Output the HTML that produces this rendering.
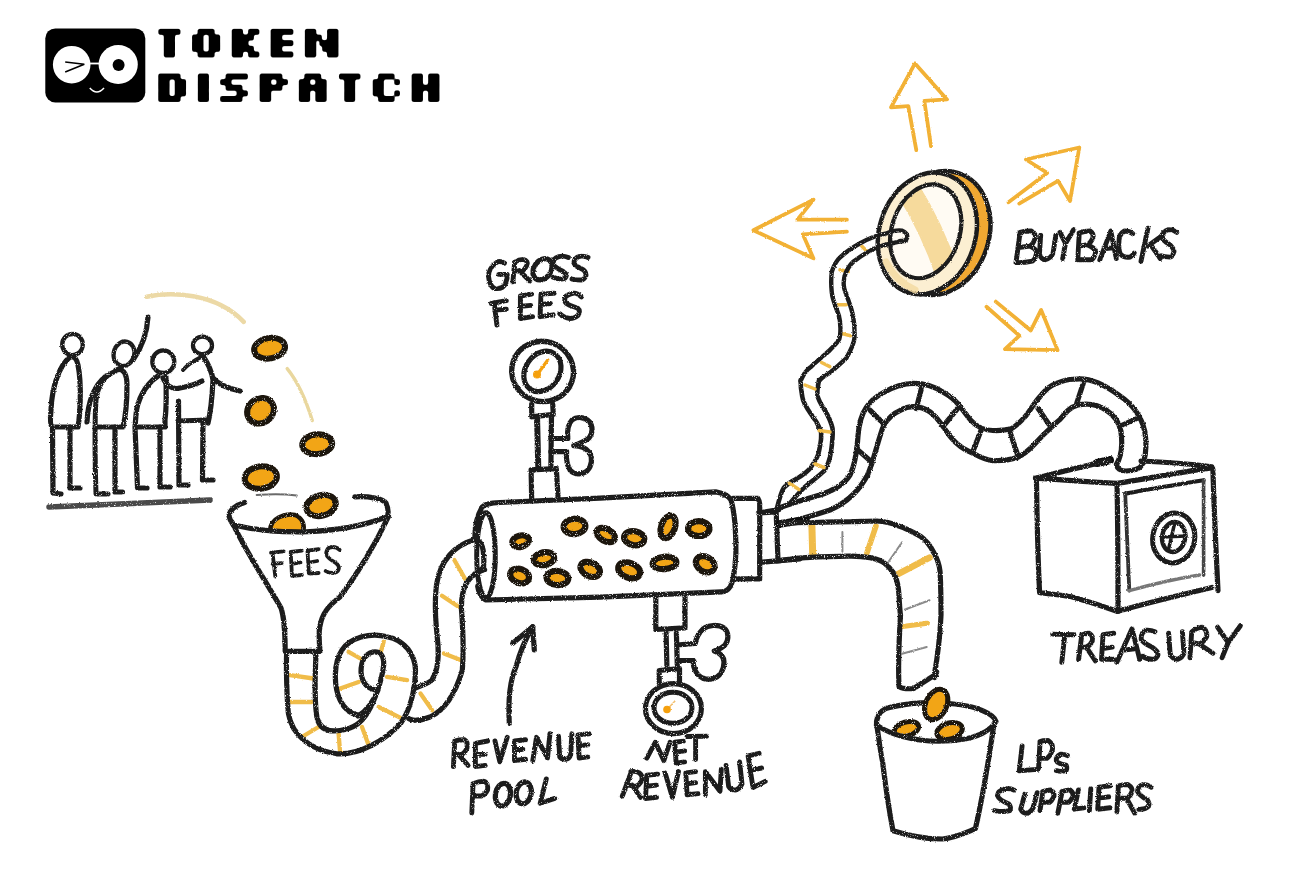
<!DOCTYPE html>
<html><head><meta charset="utf-8"><style>
html,body{margin:0;padding:0;background:#fff;}
svg{display:block;}
</style></head><body>
<svg width="1310" height="873" viewBox="0 0 1310 873">
<rect width="1310" height="873" fill="#fff"/>
<defs><filter id="goo" x="-5%" y="-5%" width="110%" height="110%"><feGaussianBlur stdDeviation="0.8"/><feComponentTransfer><feFuncA type="linear" slope="3" intercept="-1"/></feComponentTransfer></filter></defs><g fill="#000" filter="url(#goo)"><rect x="158.35" y="28.85" width="22.10" height="5.96" /><rect x="163.80" y="34.51" width="11.20" height="5.96" /><rect x="163.80" y="40.17" width="11.20" height="5.96" /><rect x="163.80" y="45.83" width="11.20" height="5.96" /><rect x="163.80" y="51.49" width="11.20" height="5.96" /><rect x="197.61" y="28.85" width="16.98" height="5.96" /><rect x="192.05" y="34.51" width="11.42" height="5.96" /><rect x="208.73" y="34.51" width="11.42" height="5.96" /><rect x="192.05" y="40.17" width="11.42" height="5.96" /><rect x="208.73" y="40.17" width="11.42" height="5.96" /><rect x="192.05" y="45.83" width="11.42" height="5.96" /><rect x="208.73" y="45.83" width="11.42" height="5.96" /><rect x="197.61" y="51.49" width="16.98" height="5.96" /><rect x="231.75" y="28.85" width="11.22" height="5.96" /><rect x="248.13" y="28.85" width="11.22" height="5.96" /><rect x="231.75" y="34.51" width="22.14" height="5.96" /><rect x="231.75" y="40.17" width="16.68" height="5.96" /><rect x="231.75" y="45.83" width="22.14" height="5.96" /><rect x="231.75" y="51.49" width="11.22" height="5.96" /><rect x="248.13" y="51.49" width="11.22" height="5.96" /><rect x="270.65" y="28.85" width="22.70" height="5.96" /><rect x="270.65" y="34.51" width="11.50" height="5.96" /><rect x="270.65" y="40.17" width="22.70" height="5.96" /><rect x="270.65" y="45.83" width="11.50" height="5.96" /><rect x="270.65" y="51.49" width="22.70" height="5.96" /><rect x="304.85" y="28.85" width="11.40" height="5.96" /><rect x="327.05" y="28.85" width="11.40" height="5.96" /><rect x="304.85" y="34.51" width="11.40" height="5.96" /><rect x="327.05" y="34.51" width="11.40" height="5.96" /><rect x="304.85" y="40.17" width="11.40" height="5.96" /><rect x="327.05" y="40.17" width="11.40" height="5.96" /><rect x="304.85" y="45.83" width="11.40" height="5.96" /><rect x="327.05" y="45.83" width="11.40" height="5.96" /><rect x="304.85" y="51.49" width="11.40" height="5.96" /><rect x="327.05" y="51.49" width="11.40" height="5.96" /><rect x="315.90" y="34.66" width="5.95" height="5.96" /><rect x="319.43" y="40.12" width="8.32" height="5.96" /><rect x="322.20" y="45.78" width="5.55" height="5.96" /><rect x="158.25" y="73.55" width="22.30" height="5.92" /><rect x="158.25" y="79.17" width="11.30" height="5.92" /><rect x="174.75" y="79.17" width="11.30" height="5.92" /><rect x="158.25" y="84.79" width="11.30" height="5.92" /><rect x="174.75" y="84.79" width="11.30" height="5.92" /><rect x="158.25" y="90.41" width="11.30" height="5.92" /><rect x="174.75" y="90.41" width="11.30" height="5.92" /><rect x="158.25" y="96.03" width="22.30" height="5.92" /><rect x="197.85" y="73.55" width="11.10" height="5.92" /><rect x="197.85" y="79.17" width="11.10" height="5.92" /><rect x="197.85" y="84.79" width="11.10" height="5.92" /><rect x="197.85" y="90.41" width="11.10" height="5.92" /><rect x="197.85" y="96.03" width="11.10" height="5.92" /><rect x="225.64" y="73.55" width="22.26" height="5.92" /><rect x="220.15" y="79.17" width="11.28" height="5.92" /><rect x="225.64" y="84.79" width="16.77" height="5.92" /><rect x="236.62" y="90.41" width="11.28" height="5.92" /><rect x="220.15" y="96.03" width="22.26" height="5.92" /><rect x="259.65" y="73.55" width="22.70" height="5.92" /><rect x="259.65" y="79.17" width="11.50" height="5.92" /><rect x="276.45" y="79.17" width="11.50" height="5.92" /><rect x="259.65" y="84.79" width="22.70" height="5.92" /><rect x="259.65" y="90.41" width="11.50" height="5.92" /><rect x="259.65" y="96.03" width="11.50" height="5.92" /><rect x="304.35" y="73.55" width="16.80" height="5.92" /><rect x="298.85" y="79.17" width="11.30" height="5.92" /><rect x="315.35" y="79.17" width="11.30" height="5.92" /><rect x="298.85" y="84.79" width="27.80" height="5.92" /><rect x="298.85" y="90.41" width="11.30" height="5.92" /><rect x="315.35" y="90.41" width="11.30" height="5.92" /><rect x="298.85" y="96.03" width="11.30" height="5.92" /><rect x="315.35" y="96.03" width="11.30" height="5.92" /><rect x="338.95" y="73.55" width="21.50" height="5.92" /><rect x="344.25" y="79.17" width="10.90" height="5.92" /><rect x="344.25" y="84.79" width="10.90" height="5.92" /><rect x="344.25" y="90.41" width="10.90" height="5.92" /><rect x="344.25" y="96.03" width="10.90" height="5.92" /><rect x="378.13" y="73.55" width="16.44" height="5.92" /><rect x="372.75" y="79.17" width="11.06" height="5.92" /><rect x="394.27" y="79.17" width="5.68" height="5.92" /><rect x="372.75" y="84.79" width="11.06" height="5.92" /><rect x="372.75" y="90.41" width="11.06" height="5.92" /><rect x="394.27" y="90.41" width="5.68" height="5.92" /><rect x="378.13" y="96.03" width="16.44" height="5.92" /><rect x="411.65" y="73.55" width="11.30" height="5.92" /><rect x="428.15" y="73.55" width="11.30" height="5.92" /><rect x="411.65" y="79.17" width="11.30" height="5.92" /><rect x="428.15" y="79.17" width="11.30" height="5.92" /><rect x="411.65" y="84.79" width="27.80" height="5.92" /><rect x="411.65" y="90.41" width="11.30" height="5.92" /><rect x="428.15" y="90.41" width="11.30" height="5.92" /><rect x="411.65" y="96.03" width="11.30" height="5.92" /><rect x="428.15" y="96.03" width="11.30" height="5.92" /></g><rect x="45.3" y="28.4" width="100" height="74" rx="10" fill="#000"/><circle cx="71.7" cy="64.7" r="18.8" fill="#fff"/><circle cx="118.2" cy="64.5" r="19.6" fill="#fff"/><rect x="89" y="62.6" width="12" height="1.8" fill="#fff"/><circle cx="118.6" cy="65" r="6" fill="#000"/><path d="M65.2 62 L84.3 64.3 L65.2 71.9" fill="none" stroke="#000" stroke-width="1.6"/><path d="M89.8 88 Q96.8 96 104 88" fill="none" stroke="#fff" stroke-width="1.6"/>
<defs><filter id="rough" x="0" y="0" width="1310" height="873" filterUnits="userSpaceOnUse"><feTurbulence type="fractalNoise" baseFrequency="0.8" numOctaves="2" seed="3" result="n"/><feDisplacementMap in="SourceGraphic" in2="n" scale="2.2" xChannelSelector="R" yChannelSelector="G" result="d"/><feTurbulence type="fractalNoise" baseFrequency="1.1" numOctaves="1" seed="7" result="n2"/><feColorMatrix in="n2" type="matrix" values="0 0 0 0 1  0 0 0 0 1  0 0 0 0 1  0 0 0 -6 2.1" result="sp"/><feColorMatrix in="d" type="matrix" values="0 0 0 0 0  0 0 0 0 0  0 0 0 0 0  -3 -3 -3 3 0" result="dk"/><feComposite in="sp" in2="dk" operator="in" result="spd"/><feMerge><feMergeNode in="d"/><feMergeNode in="spd"/></feMerge><feGaussianBlur stdDeviation="0.35"/></filter></defs>
<g filter="url(#rough)"><ellipse cx="72.5" cy="344.6" rx="10.3" ry="10.6" fill="none" stroke="#1f1f1f" stroke-width="4.3"/><path d="M70 357 C60 365 52 385 51 410 C50 420 50 425 52 427 L78 427 C80 415 82 385 78 365 C77 360 75 357 72 357" fill="none" stroke="#1f1f1f" stroke-width="5.2" stroke-linecap="round" stroke-linejoin="round" /><path d="M52.5 427 L53 493 L61 494 M70 427 L70 488 L80 488" fill="none" stroke="#1f1f1f" stroke-width="5.2" stroke-linecap="round" stroke-linejoin="round" /><ellipse cx="124" cy="353.7" rx="10.3" ry="12.3" transform="rotate(15 124 353.7)" fill="none" stroke="#1f1f1f" stroke-width="4.3"/><path d="M133 360 C140 350 147 335 148 317" fill="none" stroke="#1f1f1f" stroke-width="5.2" stroke-linecap="round" stroke-linejoin="round" /><path d="M116 370 C122 368 127 372 127 385 C127 400 126 415 123 427 L97 427" fill="none" stroke="#1f1f1f" stroke-width="5.2" stroke-linecap="round" stroke-linejoin="round" /><path d="M116 371 C105 375 98 385 96 400 C95 415 95 460 96 494 L108 494" fill="none" stroke="#1f1f1f" stroke-width="5" stroke-linecap="round" stroke-linejoin="round" /><path d="M106 376 C95 385 88 400 87 422" fill="none" stroke="#1f1f1f" stroke-width="5.2" stroke-linecap="round" stroke-linejoin="round" /><path d="M115 427 L115 492 L122.5 492" fill="none" stroke="#1f1f1f" stroke-width="5.2" stroke-linecap="round" stroke-linejoin="round" /><ellipse cx="163.3" cy="361.7" rx="11" ry="11.3" fill="none" stroke="#1f1f1f" stroke-width="4.3"/><path d="M158 376 C145 385 137 400 136 415 L135 427 L137.5 488 L147 488" fill="none" stroke="#1f1f1f" stroke-width="5.2" stroke-linecap="round" stroke-linejoin="round" /><path d="M166 377 C166 390 167 405 165 420 L165 427 L136 427" fill="none" stroke="#1f1f1f" stroke-width="5.2" stroke-linecap="round" stroke-linejoin="round" /><path d="M160 427 L160 487 L170 487" fill="none" stroke="#1f1f1f" stroke-width="5.2" stroke-linecap="round" stroke-linejoin="round" /><path d="M163 378 C166 385 172 390 180 388 C190 386 197 384 202 381" fill="none" stroke="#1f1f1f" stroke-width="5.2" stroke-linecap="round" stroke-linejoin="round" /><ellipse cx="202.5" cy="345.4" rx="9.5" ry="8.8" fill="none" stroke="#1f1f1f" stroke-width="4.3"/><path d="M203 356 C195 360 188 364 183 370" fill="none" stroke="#1f1f1f" stroke-width="4" stroke-linecap="round" stroke-linejoin="round" /><path d="M203 356 C207 362 212 372 213 380 C212 400 210 415 208 423" fill="none" stroke="#1f1f1f" stroke-width="5.2" stroke-linecap="round" stroke-linejoin="round" /><path d="M178 421 L208 420" fill="none" stroke="#1f1f1f" stroke-width="5.2" stroke-linecap="round" stroke-linejoin="round" /><path d="M178.5 401 L179 485 L188 485" fill="none" stroke="#1f1f1f" stroke-width="5.2" stroke-linecap="round" stroke-linejoin="round" /><path d="M203 420 L202.5 480 L213 480" fill="none" stroke="#1f1f1f" stroke-width="5.2" stroke-linecap="round" stroke-linejoin="round" /><path d="M213 378 C218 384 225 388 240 391" fill="none" stroke="#1f1f1f" stroke-width="5.2" stroke-linecap="round" stroke-linejoin="round" /><path d="M49 507 C100 505 160 502 210 500" fill="none" stroke="#4a4a4a" stroke-width="5.5" stroke-linecap="round" stroke-linejoin="round" /><path d="M146.7 296.7 C170 292 215 292 243.7 321.8" fill="none" stroke="#ecd9a6" stroke-width="4.6" stroke-linecap="round" stroke-linejoin="round" /><path d="M287.2 368.6 C298 382 306 400 312.3 420.5" fill="none" stroke="#e9d79e" stroke-width="3.4" stroke-linecap="round" stroke-linejoin="round" /><ellipse cx="269.6" cy="348.2" rx="15.6" ry="10.2" transform="rotate(-10 269.6 348.2)" fill="#f2a516" stroke="#1e160c" stroke-width="6"/><ellipse cx="260.5" cy="410.7" rx="13.9" ry="12.2" transform="rotate(-35 260.5 410.7)" fill="#f2a516" stroke="#1e160c" stroke-width="6"/><ellipse cx="317.2" cy="444.2" rx="15.0" ry="9.9" transform="rotate(-5 317.2 444.2)" fill="#f2a516" stroke="#1e160c" stroke-width="6"/><ellipse cx="260.8" cy="477.5" rx="16.2" ry="11.2" transform="rotate(-8 260.8 477.5)" fill="#f2a516" stroke="#1e160c" stroke-width="6"/><path d="M256.7 495 C270 494 285 494 296.7 495.5" fill="none" stroke="#6a6a6a" stroke-width="2" stroke-linecap="round" stroke-linejoin="round" /><ellipse cx="321.1" cy="505.5" rx="15.0" ry="10.3" transform="rotate(-15 321.1 505.5)" fill="#f2a516" stroke="#1e160c" stroke-width="6"/><path d="M270 531 C270 518 285 513 295 515 C303 518 305 526 303 532 Z" fill="#f2a516" stroke="#1e160c" stroke-width="4.5" stroke-linejoin="round"/><path d="M244.6 502.4 C236 505 229 510 229 516 C230 521 232 523 233.4 525 C250 529 275 532 302 532 C330 531 360 527 384.3 517.7" fill="none" stroke="#1f1f1f" stroke-width="5.2" stroke-linecap="round" stroke-linejoin="round" /><path d="M355 496.8 C370 496 383 499 386 503 C389 510 389 515 386 519" fill="none" stroke="#1f1f1f" stroke-width="5.2" stroke-linecap="round" stroke-linejoin="round" /><path d="M232 522 C245 550 265 580 281 608 C285 620 285 635 285.2 651.3 L320 651.3 C319 640 319 630 320 626 C322 614 328 606 340 597 C360 570 375 545 388.5 516.3" fill="none" stroke="#1f1f1f" stroke-width="5.2" stroke-linecap="round" stroke-linejoin="round" /><path d="M271 552.7 L283.7 551.3 M272.5 552.7 L275.3 576.5 M272.5 563.9 L281.6 563.2" fill="none" stroke="#1f1f1f" stroke-width="3.8" stroke-linecap="round" stroke-linejoin="round" /><path d="M301.9 550.6 L290.7 552 L292 575.8 L301.9 575 M292 563.9 L300.5 562.5" fill="none" stroke="#1f1f1f" stroke-width="3.8" stroke-linecap="round" stroke-linejoin="round" /><path d="M318.6 549.2 L307.5 550.6 L308.9 573.7 L318.6 573 M308.9 562.5 L317.2 561" fill="none" stroke="#1f1f1f" stroke-width="3.8" stroke-linecap="round" stroke-linejoin="round" /><path d="M339.6 549.9 C336 546 329 546 327 550 C324 556 331 560 336 563 C341 567 339 573 333 573 C330 573 327 572 325.6 571" fill="none" stroke="#1f1f1f" stroke-width="3.8" stroke-linecap="round" stroke-linejoin="round" /><path d="M290 675.2 L313.5 678.5" fill="none" stroke="#f0bc4a" stroke-width="4.3" stroke-linecap="round" stroke-linejoin="round" /><path d="M290 702 L311.8 702" fill="none" stroke="#f0bc4a" stroke-width="4.3" stroke-linecap="round" stroke-linejoin="round" /><path d="M301.8 737 L318.5 727" fill="none" stroke="#f0bc4a" stroke-width="4.3" stroke-linecap="round" stroke-linejoin="round" /><path d="M338.6 733.7 L340.2 753.8" fill="none" stroke="#f0bc4a" stroke-width="4.3" stroke-linecap="round" stroke-linejoin="round" /><path d="M362 727 L368.7 745.4" fill="none" stroke="#f0bc4a" stroke-width="4.3" stroke-linecap="round" stroke-linejoin="round" /><path d="M378.7 707 L402.1 718.7" fill="none" stroke="#f0bc4a" stroke-width="4.3" stroke-linecap="round" stroke-linejoin="round" /><path d="M340.2 688.6 L358.6 681.9" fill="none" stroke="#f0bc4a" stroke-width="4.3" stroke-linecap="round" stroke-linejoin="round" /><path d="M348.6 651.8 L360.3 658.5" fill="none" stroke="#f0bc4a" stroke-width="4.3" stroke-linecap="round" stroke-linejoin="round" /><path d="M383.7 641.7 L380.4 653.4" fill="none" stroke="#f0bc4a" stroke-width="4.3" stroke-linecap="round" stroke-linejoin="round" /><path d="M387 676.9 L407.1 680.2" fill="none" stroke="#f0bc4a" stroke-width="4.3" stroke-linecap="round" stroke-linejoin="round" /><path d="M420.5 693.6 L432.2 710.3" fill="none" stroke="#f0bc4a" stroke-width="4.3" stroke-linecap="round" stroke-linejoin="round" /><path d="M443.9 653.4 L460.6 660.1" fill="none" stroke="#f0bc4a" stroke-width="4.3" stroke-linecap="round" stroke-linejoin="round" /><path d="M454.3 560 L465.3 579.3" fill="none" stroke="#f0bc4a" stroke-width="4.3" stroke-linecap="round" stroke-linejoin="round" /><path d="M442 595.8 L458.5 606.8" fill="none" stroke="#f0bc4a" stroke-width="4.3" stroke-linecap="round" stroke-linejoin="round" /><path d="M286.6 654 C286 670 287 700 288.4 713.6 C292 735 310 750 336.9 753.8 C360 755 385 740 400.4 723.7 C410 710 415 690 415.5 670.2 C415 655 405 640 387 636.7 C370 632 350 638 341.9 650.1 C334 662 333 685 340.2 700.3 C345 710 352 714 358 715" fill="none" stroke="#1f1f1f" stroke-width="5.2" stroke-linecap="round" stroke-linejoin="round" /><path d="M316 654 C315 675 314 700 317 718 C320 730 330 732 340 730.5 C355 728 362 722 368 712 C375 700 382 680 383.7 665 C384 655 380 651 373 652 C365 654 361 660 361 672 C362 685 370 690 378 690 C372 705 365 712 358 716" fill="none" stroke="#1f1f1f" stroke-width="5.2" stroke-linecap="round" stroke-linejoin="round" /><path d="M408.8 718.7 C412 721 420 721 430 717 C445 710 455 695 462.3 670.2 C464 650 463 630 461.5 610 C461 598 463 590 466 584 C470 577 476 572 484.6 569.7" fill="none" stroke="#1f1f1f" stroke-width="5.2" stroke-linecap="round" stroke-linejoin="round" /><path d="M413.8 688.6 C420 686 428 684 432 680 C437 672 439 660 438 645 C436 625 434 605 436.5 585 C440 560 455 545 475 539.5" fill="none" stroke="#1f1f1f" stroke-width="5.2" stroke-linecap="round" stroke-linejoin="round" /><path d="M475 539.5 C478 540 482 543 483.2 550.5 C484 558 484 565 483.2 568 C480 571 477 572 475 573.8" fill="none" stroke="#1f1f1f" stroke-width="5.2" stroke-linecap="round" stroke-linejoin="round" /><path d="M481.8 507.9 C476 518 474.5 528 475 539.5" fill="none" stroke="#1f1f1f" stroke-width="5.2" stroke-linecap="round" stroke-linejoin="round" /><path d="M481.8 507.9 C484 504 490 503 500 502.5 L600 498.2 L715.7 491.9 C722 493 728.6 496 731 500 C734 510 736 530 735.9 553.3 C735 570 733 582 730.4 586.3 C728 590 724 591.8 721.2 591.8 L600 597.2 L486 600 C481 598 478 590 477.7 586.2" fill="none" stroke="#1f1f1f" stroke-width="5.2" stroke-linecap="round" stroke-linejoin="round" /><ellipse cx="486" cy="555.3" rx="9.3" ry="42.5" fill="none" stroke="#1f1f1f" stroke-width="5"/><path d="M733.1 498.3 L757.9 498.3 C759 500 759.7 502 759.7 503.8 L759.7 578.9 L735.9 578.9" fill="none" stroke="#1f1f1f" stroke-width="5.2" stroke-linecap="round" stroke-linejoin="round" /><path d="M759.7 513 L776.2 512 M759.7 562.4 L800 558.8 M776.2 513 L778 560.6" fill="none" stroke="#1f1f1f" stroke-width="5.2" stroke-linecap="round" stroke-linejoin="round" /><ellipse cx="520.6" cy="541.2" rx="8.4" ry="5.7" transform="rotate(-15 520.6 541.2)" fill="#f2a516" stroke="#1e160c" stroke-width="6.2"/><ellipse cx="574.5" cy="526.4" rx="10.9" ry="7.700000000000001" transform="rotate(-5 574.5 526.4)" fill="#f2a516" stroke="#1e160c" stroke-width="6.2"/><ellipse cx="544" cy="558.7" rx="10.200000000000001" ry="6.4" transform="rotate(-10 544 558.7)" fill="#f2a516" stroke="#1e160c" stroke-width="6.2"/><ellipse cx="519.6" cy="575.9" rx="9.700000000000001" ry="7.0" transform="rotate(20 519.6 575.9)" fill="#f2a516" stroke="#1e160c" stroke-width="6.2"/><ellipse cx="557.4" cy="578" rx="10.9" ry="7.0" transform="rotate(5 557.4 578)" fill="#f2a516" stroke="#1e160c" stroke-width="6.2"/><ellipse cx="605.8" cy="535" rx="9.9" ry="6.0" transform="rotate(30 605.8 535)" fill="#f2a516" stroke="#1e160c" stroke-width="6.2"/><ellipse cx="634.2" cy="538.2" rx="10.200000000000001" ry="7.0" transform="rotate(10 634.2 538.2)" fill="#f2a516" stroke="#1e160c" stroke-width="6.2"/><ellipse cx="668.1" cy="526.8" rx="6.9" ry="11.700000000000001" transform="rotate(20 668.1 526.8)" fill="#f2a516" stroke="#1e160c" stroke-width="6.2"/><ellipse cx="698.8" cy="528.6" rx="10.700000000000001" ry="7.4" transform="rotate(0 698.8 528.6)" fill="#f2a516" stroke="#1e160c" stroke-width="6.2"/><ellipse cx="590.2" cy="569.4" rx="10.200000000000001" ry="6.9" transform="rotate(25 590.2 569.4)" fill="#f2a516" stroke="#1e160c" stroke-width="6.2"/><ellipse cx="629.2" cy="570.3" rx="11.4" ry="7.4" transform="rotate(20 629.2 570.3)" fill="#f2a516" stroke="#1e160c" stroke-width="6.2"/><ellipse cx="664.5" cy="562.9" rx="11.9" ry="6.2" transform="rotate(-5 664.5 562.9)" fill="#f2a516" stroke="#1e160c" stroke-width="6.2"/><ellipse cx="705.2" cy="564.3" rx="9.9" ry="7.4" transform="rotate(30 705.2 564.3)" fill="#f2a516" stroke="#1e160c" stroke-width="6.2"/><ellipse cx="542.6" cy="371.4" rx="31" ry="30" transform="rotate(20 542.6 371.4)" fill="#fff" stroke="#1f1f1f" stroke-width="5.4"/><ellipse cx="542.4" cy="371.4" rx="17" ry="21.5" transform="rotate(35 542.4 371.4)" fill="none" stroke="#1f1f1f" stroke-width="5.2"/><path d="M537 375 L547.8 359.9" fill="none" stroke="#f5a010" stroke-width="3.2" stroke-linecap="round" stroke-linejoin="round" /><circle cx="537" cy="374.5" r="4" fill="#f5a010"/><path d="M531.7 404 L531.7 416.8 L553.3 414.4 L552.7 404" fill="none" stroke="#1f1f1f" stroke-width="5.2" stroke-linecap="round" stroke-linejoin="round" /><path d="M537.1 419.3 L538.3 468.6" fill="none" stroke="#1f1f1f" stroke-width="6" stroke-linecap="round" stroke-linejoin="round" /><path d="M551.5 415.6 L550.9 467.4" fill="none" stroke="#1f1f1f" stroke-width="5.2" stroke-linecap="round" stroke-linejoin="round" /><path d="M531.7 499.9 L531.1 469.8 L556.3 468.6 L558.1 497.5" fill="none" stroke="#1f1f1f" stroke-width="5.2" stroke-linecap="round" stroke-linejoin="round" /><path d="M550.9 438.5 L567.8 438.5 C567 430 568 424 572 420 C577 416 585 417 589.4 421.7 C593 426 593 433 589 438 C586 441 580 443 573.8 445.7 C580 446 586 448 589 452 C593 457 592 466 587 471 C582 475 574 475 570 470 C567 465 566 458 566.6 451.7 L550.9 451.7" fill="none" stroke="#1f1f1f" stroke-width="5.2" stroke-linecap="round" stroke-linejoin="round" /><path d="M655.8 596.9 L655.8 629.5 L685 627.8 L685 596.9" fill="none" stroke="#1f1f1f" stroke-width="5.2" stroke-linecap="round" stroke-linejoin="round" /><path d="M666.1 633 L667 669 M676.4 633 L677.3 665.6" fill="none" stroke="#1f1f1f" stroke-width="5.2" stroke-linecap="round" stroke-linejoin="round" /><path d="M677.3 645 L695.3 643.3 C696 638 699 633 703 629 C708 625 718 624 724 628 C729 632 729 640 725 645 C722 648 718 650 714.2 651 C720 653 724 657 724 662 C724 670 720 677 712 679 C704 680 698 677 695 670 C693 665 693 662 693.6 660.5 L678.1 660.5" fill="none" stroke="#1f1f1f" stroke-width="5.2" stroke-linecap="round" stroke-linejoin="round" /><path d="M659.2 682.8 L659.2 670.5 L679.5 668.5 L679.5 682.8" fill="none" stroke="#1f1f1f" stroke-width="5.2" stroke-linecap="round" stroke-linejoin="round" /><ellipse cx="673.4" cy="708.6" rx="28" ry="25" fill="#fff" stroke="#1f1f1f" stroke-width="5.2"/><ellipse cx="673" cy="707.8" rx="19" ry="15.5" fill="none" stroke="#1f1f1f" stroke-width="5"/><path d="M667 709.5 L675 700.9" fill="none" stroke="#f3c070" stroke-width="1.5" stroke-linecap="round" stroke-linejoin="round" /><circle cx="667" cy="709.5" r="3.8" fill="#f5a010"/><path d="M509.3 723.3 C508 700 510 680 516 666.7 C520 652 526 638 532.7 626.7" fill="none" stroke="#1f1f1f" stroke-width="5.2" stroke-linecap="round" stroke-linejoin="round" /><path d="M512.7 643.3 L532.7 626.7 L534.3 650" fill="none" stroke="#1f1f1f" stroke-width="5.2" stroke-linecap="round" stroke-linejoin="round" /><path d="M777 508 C779 500 781 492 783.8 487.7 C788 483 792 481 795.6 479.3 C803 475 808 472 810.7 467.5 C816 460 819 455 819.1 450.7 C821 442 822 436 820.8 430.5 C818 424 814 418 810.7 413.7 C806 407 803 402 802.3 396.8 C801 390 800.5 385 800.6 380" fill="none" stroke="#1f1f1f" stroke-width="4.6" stroke-linecap="round" stroke-linejoin="round" /><path d="M788.8 504.6 C794 498 800 492 804 487.7 C812 481 819 476 824.2 470.9 C828 465 830 458 830.9 452.4 C832 445 833 436 832.6 428.8 C831 421 828 416 825.9 412 C822 406 818 400 817.4 395.2 C817 390 818 385 819.1 380" fill="none" stroke="#1f1f1f" stroke-width="4.6" stroke-linecap="round" stroke-linejoin="round" /><path d="M758.5 513 L778.7 509.6" fill="none" stroke="#1f1f1f" stroke-width="5.2" stroke-linecap="round" stroke-linejoin="round" /><path d="M779 508 C795 502 810 498 820 495 C835 490 845 483 850 475 C855 465 857 450 858 436 C859 424 861 415 866 408 C871 400 877 396 883.6 392.5 C893 387 903 383.5 913.8 383.4 C925 383.5 935 387 942.4 391.8 C950 396 955 400 959.2 405.3 C964 411 967 416 970.9 420.4 C977 427 985 430.5 992.7 430.5 C1000 431 1006 430 1011.2 428.8 C1018 425 1022 420 1026.3 415.3 C1031 409 1035 402 1039.8 396.9 C1045 390 1050 385 1056.5 383.4 C1062 381 1068 379 1075 379.3 C1090 377 1105 385 1119.5 395.7 C1132 404 1141 415 1144.8 431.4 C1147 445 1146 455 1143.3 463" fill="none" stroke="#1f1f1f" stroke-width="5.2" stroke-linecap="round" stroke-linejoin="round" /><path d="M782 523 C800 520 815 515 830 510 C848 502 860 490 868 474 C874 460 878 440 883.6 425.4 C888 418 894 413 900.4 410.3 C906 407 912 406 917.2 406.9 C924 408 930 411 934 415.3 C941 422 945 430 950.8 437.2 C956 444 963 449 970.9 452.3 C978 456 985 460 992.7 460.7 C1002 461 1010 460 1017.9 457.3 C1024 454 1030 449 1034.7 443.9 C1040 438 1046 432 1051.5 427.1 C1056 423 1058 421 1060 419.5 C1066 412 1070 407 1078 405 C1088 403 1098 405 1106 410 C1114 415 1119 422 1121 431.4 C1122 440 1122 450 1120 456 C1119 460 1118 462 1116.5 464.2" fill="none" stroke="#1f1f1f" stroke-width="5.2" stroke-linecap="round" stroke-linejoin="round" /><path d="M870.2 410.3 L883.6 423.7" fill="none" stroke="#1f1f1f" stroke-width="5.2" stroke-linecap="round" stroke-linejoin="round" /><path d="M856.7 448.9 L870.2 460.7" fill="none" stroke="#1f1f1f" stroke-width="5.2" stroke-linecap="round" stroke-linejoin="round" /><path d="M921.4 388.5 L916.3 408.6" fill="none" stroke="#1f1f1f" stroke-width="5.2" stroke-linecap="round" stroke-linejoin="round" /><path d="M958 408 L945 424" fill="none" stroke="#1f1f1f" stroke-width="5.2" stroke-linecap="round" stroke-linejoin="round" /><path d="M981 430.5 L972.6 452.3" fill="none" stroke="#1f1f1f" stroke-width="5.2" stroke-linecap="round" stroke-linejoin="round" /><path d="M1009.5 430.5 L1017.9 455.6" fill="none" stroke="#1f1f1f" stroke-width="5.2" stroke-linecap="round" stroke-linejoin="round" /><path d="M1038.1 408.6 L1049.8 425.4" fill="none" stroke="#1f1f1f" stroke-width="5.2" stroke-linecap="round" stroke-linejoin="round" /><path d="M1083.3 383.3 L1076.7 403.3" fill="none" stroke="#1f1f1f" stroke-width="5.2" stroke-linecap="round" stroke-linejoin="round" /><path d="M1122.5 425 L1139 417.5" fill="none" stroke="#1f1f1f" stroke-width="5.2" stroke-linecap="round" stroke-linejoin="round" /><path d="M811.9 526 L812.7 554.5" fill="none" stroke="#f0bc4a" stroke-width="7" stroke-linecap="round" stroke-linejoin="round" /><path d="M876 526 L866.9 553" fill="none" stroke="#f0bc4a" stroke-width="5.5" stroke-linecap="round" stroke-linejoin="round" /><path d="M929.5 557.6 L897.4 574.4" fill="none" stroke="#f0bc4a" stroke-width="6.5" stroke-linecap="round" stroke-linejoin="round" /><path d="M900.7 626.7 L927.3 623.3" fill="none" stroke="#f0bc4a" stroke-width="5" stroke-linecap="round" stroke-linejoin="round" /><path d="M842.4 532 L842.4 551.5" fill="none" stroke="#8a8a8a" stroke-width="2" stroke-linecap="round" stroke-linejoin="round" /><path d="M902 542.3 L888.2 562.2" fill="none" stroke="#8a8a8a" stroke-width="2" stroke-linecap="round" stroke-linejoin="round" /><path d="M929.5 600.3 L905 609.5" fill="none" stroke="#8a8a8a" stroke-width="2" stroke-linecap="round" stroke-linejoin="round" /><path d="M902 653.7 L926.7 647" fill="none" stroke="#8a8a8a" stroke-width="2" stroke-linecap="round" stroke-linejoin="round" /><path d="M779 524 C790 522 800 521 806 520" stroke="#111" stroke-width="7.5" stroke-linecap="round" fill="none"/><path d="M781 523 C795 522.5 805 522.5 813.4 522.5 C830 522 845 521.7 851.6 521.7 C860 521.5 870 521 876 521 C885 521.5 892 523 897.4 525.5 C905 528 913 532 920.3 536.2 C927 541 931 547 934 553 C938 560 940 567 940.2 574.4 C941 590 941 605 941 615 C940 640 937 660 934 676.7 C935 680 936.7 672 936.7 672" fill="none" stroke="#1f1f1f" stroke-width="5.2" stroke-linecap="round" stroke-linejoin="round" /><path d="M776.7 561 C785 560 795 558 805.8 557.6 C825 556.5 840 556 851.6 556.1 C860 556.5 865 557 870 557.6 C877 559 882 561 885.2 563.7 C889 567 892 570 894.4 574.4 C897 580 898.5 587 898.9 594.2 C899.5 605 900 612 900.5 615 C899 640 898 665 899 686.5 C903 689 909 689 913.6 688.5 L936.2 674.1" fill="none" stroke="#1f1f1f" stroke-width="5.2" stroke-linecap="round" stroke-linejoin="round" /><path d="M915 63.4 L947 99.4 L924.3 100.8 L931 146.2 M916.3 150.2 L908.3 106.1 L891 107.4 L915 63.4" fill="none" stroke="#f2b134" stroke-width="3.8" stroke-linecap="round" stroke-linejoin="round" /><path d="M1008.5 202.3 L1047.2 172.9 L1025.9 159.5 L1079.3 147.5 L1070 201 L1058 180.9 L1019.2 203.6" fill="none" stroke="#f2b134" stroke-width="3.8" stroke-linecap="round" stroke-linejoin="round" /><path d="M846.9 219.7 L797.4 219.7 L813.5 199.6 L753.4 230.3 L813.5 258.4 L802.8 234.3 L846.9 231.7" fill="none" stroke="#f2b134" stroke-width="3.8" stroke-linecap="round" stroke-linejoin="round" /><path d="M986.5 306.8 L1019.5 335.7 L1005 349.1 L1057.6 350.1 L1041.1 309.9 L1030.8 330.5 L995.8 301.6" fill="none" stroke="#f2b134" stroke-width="3.8" stroke-linecap="round" stroke-linejoin="round" /><ellipse cx="939" cy="233" rx="50" ry="63" transform="rotate(18 939 233)" fill="#f0a830" stroke="#1f1f1f" stroke-width="4.5"/><ellipse cx="927.4" cy="233.5" rx="48" ry="62" transform="rotate(18 927.4 233.5)" fill="#fcefd2" stroke="#1f1f1f" stroke-width="4.5"/><clipPath id="cface"><ellipse cx="925.7" cy="231.3" rx="34" ry="48" transform="rotate(18 925.7 231.3)"/></clipPath><ellipse cx="925.7" cy="231.3" rx="34" ry="48" transform="rotate(18 925.7 231.3)" fill="#fffbf3"/><g clip-path="url(#cface)"><path d="M908 190 C922 212 936 240 948 275" fill="none" stroke="#f4d48c" stroke-width="24" stroke-linecap="round" stroke-linejoin="round" opacity="0.85"/></g><path d="M886 262 C892 274 902 284 915 290" fill="none" stroke="#f3d9a0" stroke-width="7" stroke-linecap="round" stroke-linejoin="round" opacity="0.8"/><ellipse cx="925.7" cy="231.3" rx="34" ry="48" transform="rotate(18 925.7 231.3)" fill="none" stroke="#1f1f1f" stroke-width="4.2"/><path d="M860.7 245 L866.8 251.2" fill="none" stroke="#f0bc4a" stroke-width="3.5" stroke-linecap="round" stroke-linejoin="round" /><path d="M840 269.8 L848.3 271.8" fill="none" stroke="#f0bc4a" stroke-width="3.5" stroke-linecap="round" stroke-linejoin="round" /><path d="M838 304.8 L846.2 304.8" fill="none" stroke="#f0bc4a" stroke-width="3.5" stroke-linecap="round" stroke-linejoin="round" /><path d="M842.1 333.6 L850.4 335.7" fill="none" stroke="#f0bc4a" stroke-width="3.5" stroke-linecap="round" stroke-linejoin="round" /><path d="M821.5 362.5 L829.8 366.6" fill="none" stroke="#f0bc4a" stroke-width="3.5" stroke-linecap="round" stroke-linejoin="round" /><path d="M805 385 L815 389" fill="none" stroke="#f0bc4a" stroke-width="3.5" stroke-linecap="round" stroke-linejoin="round" /><path d="M819 430.5 L830 432" fill="none" stroke="#f0bc4a" stroke-width="3.5" stroke-linecap="round" stroke-linejoin="round" /><path d="M815 464 L824 467.5" fill="none" stroke="#f0bc4a" stroke-width="3.5" stroke-linecap="round" stroke-linejoin="round" /><path d="M789 483 L799 489.5" fill="none" stroke="#f0bc4a" stroke-width="3.5" stroke-linecap="round" stroke-linejoin="round" /><path d="M800.6 381 C803 375 806 370 811.2 366.6 C818 360 826 354 829.8 350.1 C836 344 840 340 840.1 335.7 C841 325 840 318 838 313 C835 305 832 298 831.8 292.4 C831 285 831 278 831.8 271.8 C834 265 837 260 840.1 257.4 C848 250 855 246 860.7 243 C870 238 878 235 885.4 233.7 C892 231 898 230 901.9 230.6 C906 232 908 235 907 238 C906 241 904 241 900 241" fill="none" stroke="#1f1f1f" stroke-width="4.4" stroke-linecap="round" stroke-linejoin="round" /><path d="M819.1 381 C822 377 826 375 829.8 372.8 C836 368 842 362 846.2 358.4 C851 350 854 344 854.5 337.8 C855 328 854 320 852.4 313 C850 303 846 295 844.2 288.3 C843 282 844 276 846.2 271.8 C849 266 852 262 856.5 259.5 C862 255 868 252 873 249.2 C880 246 887 244 893.6 243 C898 242 902 241 906 240.9" fill="none" stroke="#1f1f1f" stroke-width="4.4" stroke-linecap="round" stroke-linejoin="round" /><path d="M1097 463 C1102 462 1106 461 1110 460" stroke="#111" stroke-width="8" stroke-linecap="round" fill="none"/><path d="M1116.7 465 C1117 468 1120 471 1126 471 C1134 471 1141 468 1141.7 464.8" fill="none" stroke="#1f1f1f" stroke-width="5.2" stroke-linecap="round" stroke-linejoin="round" /><path d="M1035.5 478.2 C1060 472 1085 466 1108.7 460.6" fill="none" stroke="#1f1f1f" stroke-width="5.2" stroke-linecap="round" stroke-linejoin="round" /><path d="M1141 461 C1165 462 1190 464 1211.8 466.8" fill="none" stroke="#1f1f1f" stroke-width="5.2" stroke-linecap="round" stroke-linejoin="round" /><path d="M1035.5 478.2 C1060 480 1090 482 1117 483.3 C1150 478 1180 472 1211.8 467.8" fill="none" stroke="#1f1f1f" stroke-width="5.2" stroke-linecap="round" stroke-linejoin="round" /><path d="M1036.5 481.3 C1037 520 1038 560 1039.6 592.6 C1050 594 1060 595 1071.6 596.8 C1090 602 1105 607 1117 611.2" fill="none" stroke="#1f1f1f" stroke-width="5.2" stroke-linecap="round" stroke-linejoin="round" /><path d="M1117 484.3 C1118 530 1118 575 1118 611.2" fill="none" stroke="#1f1f1f" stroke-width="5.2" stroke-linecap="round" stroke-linejoin="round" /><path d="M1212.9 468.9 C1214 510 1216 550 1218 590.6" fill="none" stroke="#1f1f1f" stroke-width="5.2" stroke-linecap="round" stroke-linejoin="round" /><path d="M1118 611.2 C1150 602 1180 595 1211.8 587.5" fill="none" stroke="#1f1f1f" stroke-width="5.2" stroke-linecap="round" stroke-linejoin="round" /><path d="M1125.2 493.6 C1150 489 1180 484 1203.6 480.2" fill="none" stroke="#1f1f1f" stroke-width="4.2" stroke-linecap="round" stroke-linejoin="round" /><path d="M1203.6 480.2 L1203.6 575.1" fill="none" stroke="#444" stroke-width="3.6" stroke-linecap="round" stroke-linejoin="round" /><path d="M1125.2 493.6 L1129.3 590.6" fill="none" stroke="#333" stroke-width="3.8" stroke-linecap="round" stroke-linejoin="round" /><path d="M1129.3 590.6 C1150 585 1175 579 1199.5 575.1" fill="none" stroke="#777" stroke-width="3.5" stroke-linecap="round" stroke-linejoin="round" /><ellipse cx="1173.7" cy="538" rx="21" ry="25" transform="rotate(10 1173.7 538)" fill="none" stroke="#1f1f1f" stroke-width="5"/><ellipse cx="1173.7" cy="537" rx="11.5" ry="15" transform="rotate(10 1173.7 537)" fill="none" stroke="#1f1f1f" stroke-width="4.5"/><path d="M1174.7 523 L1168.5 549.3 M1162.3 537 L1186 535.9" fill="none" stroke="#1f1f1f" stroke-width="3.5" stroke-linecap="round" stroke-linejoin="round" /><ellipse cx="906.4" cy="729" rx="12.5" ry="7" transform="rotate(-15 906.4 729)" fill="#f2a516" stroke="#1e160c" stroke-width="5"/><ellipse cx="949.6" cy="731" rx="13" ry="8" transform="rotate(-15 949.6 731)" fill="#f2a516" stroke="#1e160c" stroke-width="5"/><path d="M880 724 C900 736 920 741 942.4 741.1 C965 741 985 736 993 729 L993 760 L880 760 Z" fill="#fff"/><path d="M876.5 721.5 C878 712 885 708 890.9 707.1 C910 703 925 702 942.4 703 C960 704 975 707 983.6 711.2 C990 714 995 718 996 721.5 C992 728 985 735 965 739 C950 741.5 935 742 920 740 C900 737 885 731 876.5 725" fill="none" stroke="#1f1f1f" stroke-width="5.2" stroke-linecap="round" stroke-linejoin="round" /><path d="M876.5 723 C879 740 882 762 882.7 762.7 C886 790 890 815 893 830.7 C910 836 925 839 942.4 839 C955 838 965 833 975.4 828.7 C982 800 988 765 994 723.6" fill="none" stroke="#1f1f1f" stroke-width="5.2" stroke-linecap="round" stroke-linejoin="round" /><ellipse cx="936.2" cy="704.5" rx="10.5" ry="16" transform="rotate(25 936.2 704.5)" fill="#f2a516" stroke="#1e160c" stroke-width="5"/><path d="M504.4 263.1 C501 261 498 261.5 496.9 262.2 C491 266 488.5 272 488.5 276.3 C489 283 492 288 495 288.5 C500 289 504 287 505.4 283.8 C507 280 507.5 277 507.2 274.4 L498.8 274.4" fill="none" stroke="#1f1f1f" stroke-width="4.9" stroke-linecap="round" stroke-linejoin="round" /><path d="M514.7 262.2 L512.9 281.9 M514.7 262.2 C518 260 521 259.4 523.2 259.4 C527 260 528 263 527 265 C525 269 523 271 521.3 271.6 L515.7 270.7 M519.4 270.7 L529.8 281" fill="none" stroke="#1f1f1f" stroke-width="4.9" stroke-linecap="round" stroke-linejoin="round" /><ellipse cx="542.5" cy="269.3" rx="8.5" ry="11.5" transform="rotate(35 542.5 269.3)" fill="none" stroke="#1f1f1f" stroke-width="5.3"/><path d="M568.3 257.5 C565 256 561 256 558.9 256.6 C554 258 553 261 553.2 263.1 C554 267 557 268 559.8 269.7 C563 271 566 273 566.4 275.4 C566 278 564 279 561.7 279.1 C558 279 555 278 553.2 277.2" fill="none" stroke="#1f1f1f" stroke-width="4.9" stroke-linecap="round" stroke-linejoin="round" /><path d="M588 257.5 C585 256 581 256 578.6 256.6 C575 258 574 261 573.9 263.1 C575 266 578 267 581.4 268.8 C584 270 586 272 586.1 275.4 C585 278 583 280 581.4 280 C577 280 574 279.5 572 279.1" fill="none" stroke="#1f1f1f" stroke-width="4.9" stroke-linecap="round" stroke-linejoin="round" /><path d="M494.1 302.6 L496.9 325.1 M491.3 303.5 L506.3 300.7 M495 310.1 L506.3 309.2" fill="none" stroke="#1f1f1f" stroke-width="4.9" stroke-linecap="round" stroke-linejoin="round" /><path d="M531.6 294.1 L520.4 296 L520.4 318.5 L532.6 316.7 M521.3 306.3 L530.7 305.4" fill="none" stroke="#1f1f1f" stroke-width="4.9" stroke-linecap="round" stroke-linejoin="round" /><path d="M554.2 293.2 L541 294.1 L540.1 316.7 L553.2 314.8 M541 304.5 L550.4 303.5" fill="none" stroke="#1f1f1f" stroke-width="4.9" stroke-linecap="round" stroke-linejoin="round" /><path d="M581.4 297 C578 294 575 293 573.9 293.2 C569 294 566 296 565.4 297 C564 300 565 302 566.4 303.5 C570 306 575 307 577.7 308.2 C580 310 580 313 577.7 315.7 C575 318 572 318.5 570.1 318.5 C566 318 562 316 559.8 313.8" fill="none" stroke="#1f1f1f" stroke-width="4.9" stroke-linecap="round" stroke-linejoin="round" /><path d="M454.7 742.2 L453.4 766.6 M454.7 741 C458 740 461 739.8 464.4 739.8 C467 741 467.5 745 466.9 748.3 C466 751 464 753 462 754.4 L454.7 754.4 M458.3 754.4 L468.1 765.4" fill="none" stroke="#1f1f1f" stroke-width="4.9" stroke-linecap="round" stroke-linejoin="round" /><path d="M487.6 741 L475.4 743.4 L475.4 766.6 L485.2 765.4 M476.6 754.4 L485.2 754.4" fill="none" stroke="#1f1f1f" stroke-width="4.9" stroke-linecap="round" stroke-linejoin="round" /><path d="M495 741 L499.8 761.8 L507.2 737.3" fill="none" stroke="#1f1f1f" stroke-width="4.9" stroke-linecap="round" stroke-linejoin="round" /><path d="M525.5 739.8 L514.5 741 L514.5 760.5 L525.5 759.3 M514.5 749.5 L523 749.5" fill="none" stroke="#1f1f1f" stroke-width="4.9" stroke-linecap="round" stroke-linejoin="round" /><path d="M532.8 760.5 L536.5 737.3 L547.5 758.1 L549.9 733.7" fill="none" stroke="#1f1f1f" stroke-width="4.9" stroke-linecap="round" stroke-linejoin="round" /><path d="M558.5 736.1 L559.7 756.9 C561 759 563 759.3 565.8 759.3 C568 759 570 757 570.7 754.4 L571.9 733.7" fill="none" stroke="#1f1f1f" stroke-width="4.9" stroke-linecap="round" stroke-linejoin="round" /><path d="M589 733.7 L578 734.9 L579.2 758.1 L587.8 756.9 M579.2 745.9 L587.8 744.7" fill="none" stroke="#1f1f1f" stroke-width="4.9" stroke-linecap="round" stroke-linejoin="round" /><path d="M473 785 L471.8 813 M473 783.7 C477 782 481 781.3 484 781.3 C487 782 488 786 487.6 789.8 C486 793 484 795 481.5 796 L473 796" fill="none" stroke="#1f1f1f" stroke-width="4.9" stroke-linecap="round" stroke-linejoin="round" /><ellipse cx="502.9" cy="794.7" rx="7.5" ry="11.5" transform="rotate(10 502.9 794.7)" fill="none" stroke="#1f1f1f" stroke-width="5.3"/><ellipse cx="523.7" cy="792.9" rx="7.5" ry="11" transform="rotate(10 523.7 792.9)" fill="none" stroke="#1f1f1f" stroke-width="5.3"/><path d="M546.3 778.9 L540.2 803.3 L554.8 798.4" fill="none" stroke="#1f1f1f" stroke-width="4.9" stroke-linecap="round" stroke-linejoin="round" /><path d="M646.8 758.2 L655.3 742.3 L663.9 760.6 L670 742.3" fill="none" stroke="#1f1f1f" stroke-width="4.9" stroke-linecap="round" stroke-linejoin="round" /><path d="M683.4 741.1 L674.8 742.3 L676.1 763.1 L684.6 761.9 M676.1 752.1 L684.6 750.9" fill="none" stroke="#1f1f1f" stroke-width="4.9" stroke-linecap="round" stroke-linejoin="round" /><path d="M687 736.5 L706.6 736.2 M695.6 738.7 L695.6 759.4" fill="none" stroke="#1f1f1f" stroke-width="4.9" stroke-linecap="round" stroke-linejoin="round" /><path d="M622.3 796.1 L630.9 772.9 M630.9 771.6 C634 771 637 771.5 639.4 772.9 C642 775 642.5 778 641.9 780.2 C640 784 638 786 635.8 786.3 L628.4 785.1 M632.1 785.1 L640.6 797.3" fill="none" stroke="#1f1f1f" stroke-width="4.9" stroke-linecap="round" stroke-linejoin="round" /><path d="M657.7 774.1 L646.8 775.3 L645.5 798.5 L656.5 797.3 M646.8 786.3 L656.5 785.1" fill="none" stroke="#1f1f1f" stroke-width="4.9" stroke-linecap="round" stroke-linejoin="round" /><path d="M665.1 772.9 L672.4 797.3 L678.5 771.6" fill="none" stroke="#1f1f1f" stroke-width="4.9" stroke-linecap="round" stroke-linejoin="round" /><path d="M695.6 771.6 L685.8 772.9 L687.1 794.8 L698.1 793.6 M687.1 783.9 L695.6 782.6" fill="none" stroke="#1f1f1f" stroke-width="4.9" stroke-linecap="round" stroke-linejoin="round" /><path d="M705.4 794.8 L705.4 771.6 L720 791.2 L721.3 769.2" fill="none" stroke="#1f1f1f" stroke-width="4.9" stroke-linecap="round" stroke-linejoin="round" /><path d="M726.1 765.5 L728.6 786.3 C730 789 733 790 735.9 790 C739 789 741 786 742 783.9 L739.6 761.9" fill="none" stroke="#1f1f1f" stroke-width="4.9" stroke-linecap="round" stroke-linejoin="round" /><path d="M759.1 753.3 L748.1 755.8 L753 787.5 L765.2 781.4 M750.6 770.4 L761.6 768" fill="none" stroke="#1f1f1f" stroke-width="4.9" stroke-linecap="round" stroke-linejoin="round" /><path d="M1020.1 232.4 L1016 262.6 M1020.1 232.4 C1025 231 1028 231 1031.1 231 C1035 233 1036 236 1035.2 237.9 C1034 242 1032 245 1029.7 246.1 L1018.7 247.5 M1029.7 246.1 C1034 248 1036.6 250 1036.6 253 C1036 257 1034 260 1032.5 261.2 C1026 262.5 1020 262.8 1016 262.6" fill="none" stroke="#1f1f1f" stroke-width="4.9" stroke-linecap="round" stroke-linejoin="round" /><path d="M1040.7 235.1 L1039.4 254.3 C1041 258 1043 259.8 1044.8 259.8 C1049 259 1052 256 1053.1 253 L1055.8 235.1" fill="none" stroke="#1f1f1f" stroke-width="4.9" stroke-linecap="round" stroke-linejoin="round" /><path d="M1060 232.4 L1065.5 243.4 L1073.7 229.6 M1065.5 243.4 L1062.7 258.5" fill="none" stroke="#1f1f1f" stroke-width="4.9" stroke-linecap="round" stroke-linejoin="round" /><path d="M1079.2 233.7 L1077.8 259.8 M1079.2 233 C1083 231.5 1087 231 1090.2 231 C1093 233 1093.5 236 1092.9 237.9 C1091 242 1089 244 1087.4 244.7 L1079.2 246.1 M1087.4 244.7 C1092 247 1095.7 249 1095.7 251.6 C1095 256 1093 259 1091.6 259.8 L1077.8 259.8" fill="none" stroke="#1f1f1f" stroke-width="4.9" stroke-linecap="round" stroke-linejoin="round" /><path d="M1099.8 259.8 L1110.8 231 L1116.3 258.5 M1103.9 248.9 L1114.9 247.5" fill="none" stroke="#1f1f1f" stroke-width="4.9" stroke-linecap="round" stroke-linejoin="round" /><path d="M1132.8 233.7 C1130 231.5 1127 231 1124.5 231 C1121 233 1119 237 1119 240.6 C1118.5 246 1119 251 1120.4 254.3 C1123 257 1127 257.5 1130 257.1 C1132 256 1133.5 254.5 1134.2 253" fill="none" stroke="#1f1f1f" stroke-width="4.9" stroke-linecap="round" stroke-linejoin="round" /><path d="M1147.9 228.2 L1141 261.2 M1163 235.1 L1147.9 246.1 M1150.6 244.7 L1160.3 258.5" fill="none" stroke="#1f1f1f" stroke-width="4.9" stroke-linecap="round" stroke-linejoin="round" /><path d="M1176.8 232.4 C1174 230 1171 229.6 1168.5 229.6 C1164 231 1162 234 1161.6 236.5 C1163 241 1167 243 1169.9 244.7 C1172 247 1174 249 1174 251.6 C1173 255 1171.5 257 1169.9 257.1 C1166 257 1163 256.5 1160.3 255.7" fill="none" stroke="#1f1f1f" stroke-width="4.9" stroke-linecap="round" stroke-linejoin="round" /><path d="M1052.6 634.1 L1074 634.8 M1064.8 634.8 L1061.8 662.3" fill="none" stroke="#1f1f1f" stroke-width="4.9" stroke-linecap="round" stroke-linejoin="round" /><path d="M1081.6 636.4 L1078.6 659.3 M1081.6 635 C1084 634 1087 633.3 1089.3 633.3 C1092 635 1093 638 1092.3 641 C1091 644 1089 646 1086.2 647.1 L1080.1 647.1 M1086.2 647.1 L1095.4 660.8" fill="none" stroke="#1f1f1f" stroke-width="4.9" stroke-linecap="round" stroke-linejoin="round" /><path d="M1113.7 633.3 L1103 634.8 L1101.5 659.3 L1113.7 659.3 M1103 648.6 L1112.2 647.1" fill="none" stroke="#1f1f1f" stroke-width="4.9" stroke-linecap="round" stroke-linejoin="round" /><path d="M1116.8 662.3 L1132 628.7 L1139.7 659.3 M1124.4 650.1 L1136.6 648.6" fill="none" stroke="#1f1f1f" stroke-width="4.9" stroke-linecap="round" stroke-linejoin="round" /><path d="M1154.9 631.8 C1152 630.5 1148 630 1145.8 630.3 C1142 632 1141 636 1141.2 639.4 C1143 643 1148 645 1151.9 647.1 C1155 649 1158 652 1158 654.7 C1157 658 1154 659.3 1151.9 659.3 C1148 659 1145 658 1142.7 656.2" fill="none" stroke="#1f1f1f" stroke-width="4.9" stroke-linecap="round" stroke-linejoin="round" /><path d="M1168.7 633.3 L1170.2 654.7 C1172 658 1175 659.3 1177.8 659.3 C1181 658 1183 656 1183.9 653.2 L1182.4 631.8" fill="none" stroke="#1f1f1f" stroke-width="4.9" stroke-linecap="round" stroke-linejoin="round" /><path d="M1191.6 633.3 L1190 657.7 M1191.6 632 C1195 629 1199 627.2 1202.3 627.2 C1206 629 1207 633 1206.8 636.4 C1205 640 1202 643 1199.2 644 L1191.6 642.5 M1199.2 644 L1213 653.2" fill="none" stroke="#1f1f1f" stroke-width="4.9" stroke-linecap="round" stroke-linejoin="round" /><path d="M1217.5 627.2 L1228.2 642.5 L1240.4 625.7 M1228.2 642.5 L1222.1 657.7" fill="none" stroke="#1f1f1f" stroke-width="4.9" stroke-linecap="round" stroke-linejoin="round" /><path d="M1022.1 746 L1019.3 770.7 L1037.2 769.4" fill="none" stroke="#1f1f1f" stroke-width="4.9" stroke-linecap="round" stroke-linejoin="round" /><path d="M1040 741.9 L1038.6 768 M1040 741.5 C1043 740.5 1046 740.5 1048.2 740.5 C1052 743 1053 747 1052.3 750.1 C1051 754 1049 757 1046.8 758.4 L1040 758.4" fill="none" stroke="#1f1f1f" stroke-width="4.9" stroke-linecap="round" stroke-linejoin="round" /><path d="M1067.4 755.6 C1065 754.5 1062 754 1060.6 754.2 C1057 756 1056 759 1056.4 761.1 C1059 764 1063 764.5 1066.1 765.2 C1067 767 1067 769 1066.1 770.7 C1063 771.5 1059 771.5 1056.4 770.7" fill="none" stroke="#1f1f1f" stroke-width="4.9" stroke-linecap="round" stroke-linejoin="round" /><path d="M1013.9 790 C1011 788.5 1008 788.5 1005.6 788.6 C1000 790 997.5 793 997.4 795.5 C999 800 1004 802 1008.4 803.7 C1011 806 1011 809 1009.7 810.6 C1005 812 999 811.5 994.6 810.6" fill="none" stroke="#1f1f1f" stroke-width="4.9" stroke-linecap="round" stroke-linejoin="round" /><path d="M1024.8 794.1 L1020.7 809.2 C1022 812 1025 813.3 1027.6 813.3 C1030 812 1032 810 1033.1 807.8 L1037.2 792.7" fill="none" stroke="#1f1f1f" stroke-width="4.9" stroke-linecap="round" stroke-linejoin="round" /><path d="M1042.7 792.7 L1040 810.6 M1042.7 791.5 C1046 790.5 1048 790 1050.9 790 C1054 792 1054.5 794 1053.7 796.8 C1052 800 1051 801.5 1049.6 802.3 L1042.7 802.3" fill="none" stroke="#1f1f1f" stroke-width="4.9" stroke-linecap="round" stroke-linejoin="round" /><path d="M1061.9 792.7 L1057.8 813.3 M1061.9 791.5 C1065 790.5 1067 790 1070.2 790 C1073 792 1073.5 794 1072.9 796.8 C1071 800 1070 801.5 1068.8 802.3 L1061.9 802.3" fill="none" stroke="#1f1f1f" stroke-width="4.9" stroke-linecap="round" stroke-linejoin="round" /><path d="M1078.4 790 L1074.3 809.2 L1083.9 807.8" fill="none" stroke="#1f1f1f" stroke-width="4.9" stroke-linecap="round" stroke-linejoin="round" /><path d="M1090.8 788.6 L1089.4 810.6" fill="none" stroke="#1f1f1f" stroke-width="4.9" stroke-linecap="round" stroke-linejoin="round" /><path d="M1110 785.8 L1099 787.2 L1097.7 809.2 L1110 807.8 M1099 798.2 L1108.7 796.8" fill="none" stroke="#1f1f1f" stroke-width="4.9" stroke-linecap="round" stroke-linejoin="round" /><path d="M1118.3 787.2 L1116.9 812 M1118.3 786 C1122 784.5 1125 784.5 1127.9 784.5 C1131 786.5 1132.5 789 1132 791.3 C1131 795 1129 797 1126.5 798.2 L1118.3 798.2 M1126.5 798.2 L1134.8 813.3" fill="none" stroke="#1f1f1f" stroke-width="4.9" stroke-linecap="round" stroke-linejoin="round" /><path d="M1151.3 787.2 C1148 785 1145 784.5 1143 784.5 C1139 786 1137.5 789 1137.5 791.3 C1140 796 1144 798 1147.1 799.6 C1149 802 1149.5 804 1148.5 806.4 C1146 809 1142 809.5 1138.9 809.2" fill="none" stroke="#1f1f1f" stroke-width="4.9" stroke-linecap="round" stroke-linejoin="round" /></g>
</svg>
</body></html>
